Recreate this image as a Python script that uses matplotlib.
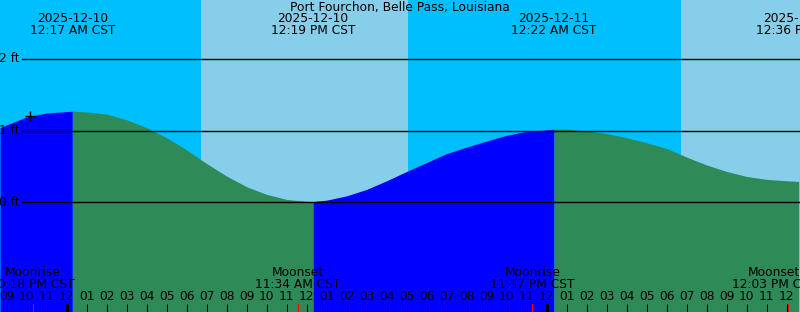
import numpy as np
import matplotlib
matplotlib.use('Agg')
import matplotlib.pyplot as plt
from matplotlib.transforms import offset_copy

plt.rcParams['font.family'] = ['DejaVu Sans']

# hours counted from 2025-12-10 00:00 CST
station = 'Port Fourchon, Belle Pass, Louisiana'

# tide height read at each hour (ft)
tide_hours = [-3.333, -3, -2, -1, 0, 1, 2, 3, 4, 5, 6, 7, 8, 9, 10, 11, 12,
              13, 14, 15, 16, 17, 18, 19, 20, 21, 22, 23, 24, 25, 26, 27, 28,
              29, 30, 31, 32, 33, 34, 35, 36, 36.667]
tide_ft = [1.04, 1.08, 1.19, 1.245, 1.265, 1.26, 1.23, 1.15, 1.04, 0.90, 0.73,
           0.54, 0.365, 0.217, 0.11, 0.04, 0.014, 0.03, 0.09, 0.18, 0.30,
           0.43, 0.555, 0.68, 0.77, 0.855, 0.935, 0.99, 1.01, 1.02, 0.995,
           0.96, 0.90, 0.83, 0.75, 0.63, 0.52, 0.43, 0.36, 0.32, 0.30, 0.296]

# highs and lows
ext_hours = [0.283, 12.317, 24.367, 36.6]
ext_ft = [1.27, 0.01, 1.02, 0.29]
ext_type = ['H', 'L', 'H', 'L']
ext_date = ['2025-12-10', '2025-12-10', '2025-12-11', '2025-12-11']
ext_time = ['12:17 AM CST', '12:19 PM CST', '12:22 AM CST', '12:36 PM CST']

# moon
moon_hours = [-1.7, 11.567, 23.283, 36.05]
moon_name = ['Moonrise', 'Moonset', 'Moonrise', 'Moonset']
moon_time = ['10:18 PM CST', '11:34 AM CST', '11:17 PM CST', '12:03 PM CST']

# daylight (sunrise, sunset)
day_spans = [(6.715, 17.05), (30.715, 40.0)]

now_hour, now_ft = -1.83, 1.2
ft_lines = [0, 1, 2]

x0, x1 = -3.3333, 36.6667
y0, y1 = -1.530, 2.821
H = 312.0
fs = 8.8


def fy(px):
    # pixel row from top -> axes fraction
    return 1 - px / H


fig = plt.figure(figsize=(8, 3.12), dpi=100)
ax = fig.add_axes([0, 0, 1, 1])
ax.set_xlim(x0, x1)
ax.set_ylim(y0, y1)
ax.set_axis_off()

ax.axvspan(x0, x1, color='#00BFFF', lw=0, zorder=0)
for a, b in day_spans:
    ax.axvspan(a, b, color='#87CEEB', lw=0, zorder=0)

# tide curve, blue when rising, green when falling
t = np.array(tide_hours + ext_hours)
h = np.array(tide_ft + ext_ft)
order = np.argsort(t)
t, h = t[order], h[order]
edges = [x0] + ext_hours + [x1]
for i in range(len(edges) - 1):
    a, b = edges[i], edges[i + 1]
    m = (t >= a - 1e-6) & (t <= b + 1e-6)
    nxt = ext_type[i] if i < len(ext_type) else 'H'
    col = '#0000FF' if nxt == 'H' else '#2E8B57'
    ax.fill_between(t[m], y0, h[m], color=col, lw=0, zorder=1)

for v in ft_lines:
    ax.axhline(v, xmin=22 / 800, xmax=1, color='black', lw=1, zorder=2)
    ax.text(20 / 800, v, '%d ft' % v, transform=ax.get_yaxis_transform(),
            ha='right', va='center', fontsize=fs, zorder=3)

ax.plot([now_hour], [now_ft], marker='+', color='black', ms=7, mew=1, zorder=3)

tr = ax.get_xaxis_transform()
ax.text(400 / 800, fy(7), station, transform=ax.transAxes, ha='center',
        va='center', fontsize=fs)
for xh, d, s in zip(ext_hours, ext_date, ext_time):
    ax.text(xh, fy(19), d, transform=tr, ha='center', va='center', fontsize=fs)
    ax.text(xh, fy(31), s, transform=tr, ha='center', va='center', fontsize=fs)

for xh, n, s in zip(moon_hours, moon_name, moon_time):
    # labels near the right edge are pulled back in
    px = (xh - x0) / (x1 - x0) * 800
    dx = min(0, 774 - px) if px > 774 else 0
    ttr = offset_copy(tr, fig=fig, x=dx, y=0, units='dots')
    ax.text(xh, fy(273), n, transform=ttr, ha='center', va='center', fontsize=fs)
    ax.text(xh, fy(285), s, transform=ttr, ha='center', va='center', fontsize=fs)
    ax.plot([xh, xh], [0, fy(304)], transform=tr, color='red', lw=0.75, zorder=4)

for k in range(int(np.ceil(x0)), int(np.floor(x1)) + 1):
    lab = '%02d' % ((k % 24) % 12 or 12)
    ax.text(k, fy(297), lab, transform=tr, ha='center', va='center', fontsize=fs)
    lw = 2.2 if k % 24 == 0 else 0.75
    ax.plot([k, k], [0, fy(304)], transform=tr, color='black', lw=lw,
            solid_capstyle='butt', zorder=3)

fig.savefig('out.png', dpi=100)
